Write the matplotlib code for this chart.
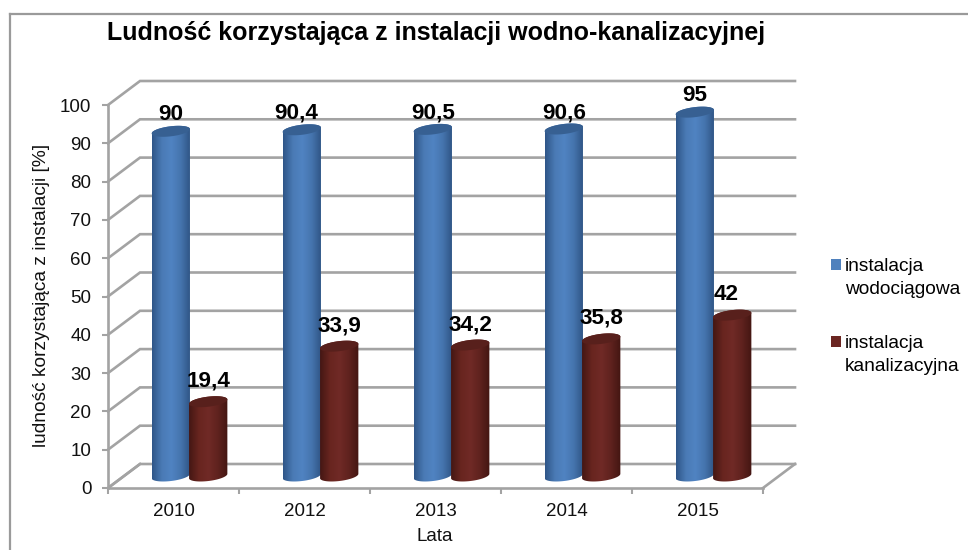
"""Ludnosc korzystajaca z instalacji - pseudo 3D cylinder chart."""
import matplotlib
matplotlib.use("Agg")
from matplotlib.colors import LinearSegmentedColormap
from matplotlib.legend_handler import HandlerPatch
from matplotlib.lines import Line2D
from matplotlib.patches import Patch, PathPatch, Polygon, Rectangle
from matplotlib.path import Path
import matplotlib.pyplot as plt
import numpy as np

plt.rcParams['font.family'] = ['Liberation Sans', 'DejaVu Sans']

years = ['2010', '2012', '2013', '2014', '2015']
water = [90, 90.4, 90.5, 90.6, 95]
sewer = [19.4, 33.9, 34.2, 35.8, 42]
water_labels = ['90', '90,4', '90,5', '90,6', '95']
sewer_labels = ['19,4', '33,9', '34,2', '35,8', '42']
yticks = list(range(0, 101, 10))

W, H = 968, 550
# pixels per data unit and depth of the fake 3D box
SX = 131.0
SY = 3.83
DEPTH_X = 32
DEPTH_Y = 24
GRID = '#a3a3a3'

BLUE = LinearSegmentedColormap.from_list('b', ['#2f5688', '#4a7ab5', '#5083c2', '#4574ad', '#2e5383'])
RED = LinearSegmentedColormap.from_list('r', ['#451714', '#68251f', '#702a26', '#5f221e', '#431612'])


def cylinder(ax, xc, value, cmap, top_color):
    """Draw one cylinder standing in the middle of the box depth."""
    dx = DEPTH_X / 2 / SX
    dy = DEPTH_Y / 2 / SY
    a, b = 19.3, 5.0
    tilt = np.radians(7)
    t = np.linspace(0, 2 * np.pi, 80)
    ex = (a * np.cos(t) * np.cos(tilt) - b * np.sin(t) * np.sin(tilt)) / SX
    ey = (a * np.cos(t) * np.sin(tilt) + b * np.sin(t) * np.cos(tilt)) / SY
    x0 = xc + dx
    top = np.column_stack([x0 + ex, value + dy + ey])
    bottom = np.column_stack([x0 + ex, dy + ey])

    # body outline: lower half of the base, then back over the top
    low = np.sin(t) <= 0
    base = bottom[low]
    base = base[np.argsort(base[:, 0])]
    upper = top[np.sin(t) >= 0]
    upper = upper[np.argsort(-upper[:, 0])]
    body = Polygon(np.vstack([base, upper]), closed=True, facecolor='none', edgecolor='none')
    ax.add_patch(body)

    grad = np.linspace(0, 1, 64).reshape(1, -1)
    im = ax.imshow(grad, cmap=cmap, aspect='auto', zorder=3,
                   extent=[x0 - a / SX, x0 + a / SX, 0, value + 2 * dy + 3])
    im.set_clip_path(body)
    ax.add_patch(PathPatch(Path(np.vstack([top, top[:1]])), facecolor=top_color,
                           edgecolor='none', zorder=4))
    return x0


def first_line_swatch(legend, orig_handle, xdescent, ydescent, width, height, fontsize):
    """Legend swatch level with the first line of a two line label."""
    return Rectangle((-xdescent, -ydescent + 9.5), width, height)


fig = plt.figure(figsize=(W / 100, H / 100), dpi=100)
# axes origin is the front-left floor corner, top right is the back wall corner
left, right = 108, 108 + 5 * SX + DEPTH_X
floor, top = 488, 488 - (100 * SY + DEPTH_Y)
ax = fig.add_axes([left / W, 1 - floor / H, (right - left) / W, (floor - top) / H])
ax.patch.set_visible(False)

xmax = 5 + DEPTH_X / SX
ymax = 100 + DEPTH_Y / SY
ddx, ddy = DEPTH_X / SX, DEPTH_Y / SY

# walls
for v in yticks:
    ax.plot([0, ddx, xmax], [v, v + ddy, v + ddy], color=GRID, lw=1.9, zorder=1,
            solid_joinstyle='miter', clip_on=False)
ax.plot([ddx, 0], [ddy, 0], color=GRID, lw=1.9, zorder=1)
ax.plot([5, xmax], [0, ddy], color=GRID, lw=1.9, zorder=1, clip_on=False)

half = 18.7 / SX
for i in range(len(years)):
    x_w = cylinder(ax, i + 0.5 - half, water[i], BLUE, '#376092')
    x_s = cylinder(ax, i + 0.5 + half, sewer[i], RED, '#58201c')
    # hand nudges of a few labels, as placed in the original chart
    nudge_w = -6 if i == 1 else 0
    nudge_s = -6 if i == 4 else 0
    ax.annotate(water_labels[i], (x_w, water[i] + DEPTH_Y / 2 / SY), xytext=(nudge_w, 11),
                textcoords='offset pixels', ha='center', va='baseline',
                fontsize=16.2, fontweight='bold', color='black', zorder=6)
    ax.annotate(sewer_labels[i], (x_s, sewer[i] + DEPTH_Y / 2 / SY), xytext=(nudge_s, 15),
                textcoords='offset pixels', ha='center', va='baseline',
                fontsize=16.2, fontweight='bold', color='black', zorder=6)

ax.set_xlim(0, xmax)
ax.set_ylim(0, ymax)

for side in ('top', 'right'):
    ax.spines[side].set_visible(False)
for side in ('left', 'bottom'):
    ax.spines[side].set_color(GRID)
    ax.spines[side].set_linewidth(1.9)
ax.spines['left'].set_bounds(0, 100)
ax.spines['bottom'].set_bounds(0, 5)

ax.set_yticks(yticks)
ax.set_xticks(np.arange(len(years)) + 0.5)
ax.set_xticklabels(years)
ax.set_xticks(np.arange(len(years) + 1), minor=True)
ax.tick_params(axis='x', which='major', length=0, labelsize=13.5, pad=11, labelcolor='#111111')
ax.tick_params(axis='x', which='minor', length=4, width=1.5, color=GRID)
ax.tick_params(axis='y', length=4, width=1.5, color=GRID, labelsize=13.5, pad=8, labelcolor='#111111')
ax.set_ylabel('ludność korzystająca z instalacji [%]', fontsize=13.8, color='#111111')
ax.yaxis.set_label_coords((50 - left) / (right - left), (floor - 295) / (floor - top))
ax.set_xlabel('Lata', fontsize=13.5, color='#111111')
ax.xaxis.set_label_coords((435 - left) / (right - left), -(528 - floor) / (floor - top))

fig.text(436 / W, 1 - 33 / H, 'Ludność korzystająca z instalacji wodno-kanalizacyjnej',
         ha='center', va='center', fontsize=18, fontweight='bold', color='black')

handles = [Patch(facecolor='#4f81bd', label='instalacja\nwodociągowa'),
           Patch(facecolor='#6b2622', label='instalacja\nkanalizacyjna')]
leg = fig.legend(handles=handles, loc='upper left', bbox_to_anchor=(831 / W, 1 - 258 / H),
                 frameon=False, fontsize=13.8, handlelength=0.52, handleheight=0.52,
                 handletextpad=0.2, labelspacing=1.95, borderpad=0, borderaxespad=0,
                 handler_map={Patch: HandlerPatch(patch_func=first_line_swatch)})
for text in leg.get_texts():
    text.set_linespacing(1.45)

# chart area frame
frame = {'color': '#9a9a9a', 'lw': 1.6, 'transform': fig.transFigure}
fig.add_artist(Line2D([9.5 / W, 9.5 / W], [0, 1 - 13.5 / H], **frame))
fig.add_artist(Line2D([9.5 / W, 1], [1 - 13.5 / H, 1 - 13.5 / H], **frame))

fig.savefig('out.png', dpi=100)
